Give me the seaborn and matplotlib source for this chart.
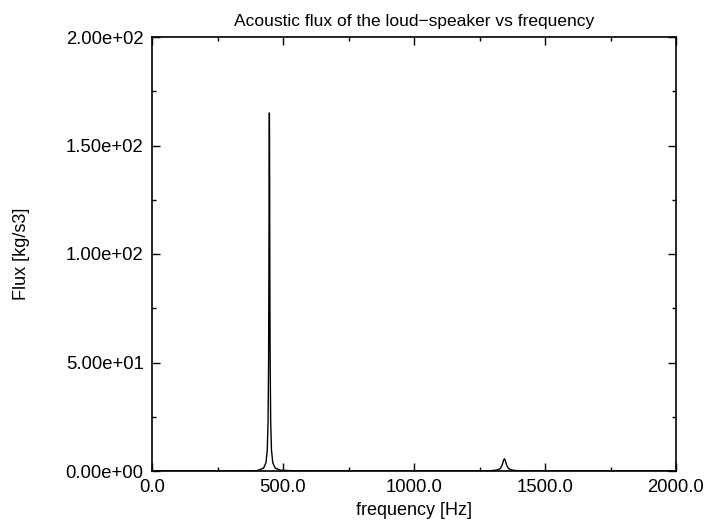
import matplotlib
matplotlib.use("Agg")
import matplotlib.pyplot as plt
import matplotlib.ticker as mticker
import numpy as np
import pandas as pd
import seaborn as sns

# Frequency samples [Hz] and acoustic flux values [kg/s3]
freq = [0, 100, 200, 300, 350, 400, 406, 426, 435, 440, 443, 445, 446, 446.5,
        447, 447.5, 448, 448.5, 449, 449.5, 450, 451, 453, 456, 461, 470, 490,
        550, 700, 900, 1100, 1200, 1245, 1295, 1315, 1325, 1330, 1335, 1339,
        1342, 1345, 1348, 1351, 1355, 1360, 1365, 1375, 1395, 1445, 1500,
        1700, 2000]
flux = [0.02, 0.02, 0.03, 0.05, 0.07, 0.17, 0.37, 1.35, 3.8, 9.7, 22.8, 50.8,
        82.5, 105.6, 132.0, 155.3, 165.0, 155.3, 132.0, 105.6, 82.5, 50.8,
        22.8, 9.7, 3.8, 1.35, 0.37, 0.07, 0.03, 0.03, 0.04, 0.05, 0.07, 0.16,
        0.42, 0.85, 1.3, 2.3, 3.8, 5.0, 5.6, 5.0, 3.8, 2.3, 1.3, 0.85, 0.42,
        0.16, 0.06, 0.04, 0.03, 0.02]

title = "Acoustic flux of the loud\u2212speaker vs frequency"
xlabel = "frequency [Hz]"
ylabel = "Flux [kg/s3]"
xticks = [0, 500, 1000, 1500, 2000]
yticks = [0, 50, 100, 150, 200]

df = pd.DataFrame({"freq": freq, "flux": flux})

sns.set_style("ticks")
plt.rcParams["font.family"] = ["Liberation Sans", "DejaVu Sans"]
plt.rcParams["text.color"] = "black"
plt.rcParams["axes.labelcolor"] = "black"

fig = plt.figure(figsize=(7.07, 5.27), dpi=100)
ax = fig.add_axes([152 / 707, 1 - 471 / 527, (676 - 152) / 707, (471 - 37) / 527])

sns.lineplot(data=df, x="freq", y="flux", ax=ax, color="black", linewidth=1.0,
             estimator=None, sort=True)

ax.set_xlim(0, 2000)
ax.set_ylim(0, 200)
ax.set_xticks(xticks)
ax.set_yticks(yticks)
ax.xaxis.set_minor_locator(mticker.MultipleLocator(250))
ax.yaxis.set_minor_locator(mticker.MultipleLocator(25))
ax.xaxis.set_major_formatter(mticker.FormatStrFormatter("%.1f"))
ax.yaxis.set_major_formatter(mticker.FormatStrFormatter("%.2e"))

ax.tick_params(which="both", direction="in", top=True, right=True,
               labelsize=13.3, colors="black", width=1.0)
ax.tick_params(which="major", length=6, pad=6)
ax.tick_params(which="minor", length=3)
for s in ax.spines.values():
    s.set_linewidth(1.2)
    s.set_color("black")

ax.set_xlabel(xlabel, fontsize=13, labelpad=4, color="black")
ax.set_ylabel(ylabel, fontsize=13, color="black")
ax.yaxis.set_label_coords(-0.233, 0.5)
ax.set_title(title, fontsize=12.5, pad=8, color="black")

fig.savefig("out.png", dpi=100)
